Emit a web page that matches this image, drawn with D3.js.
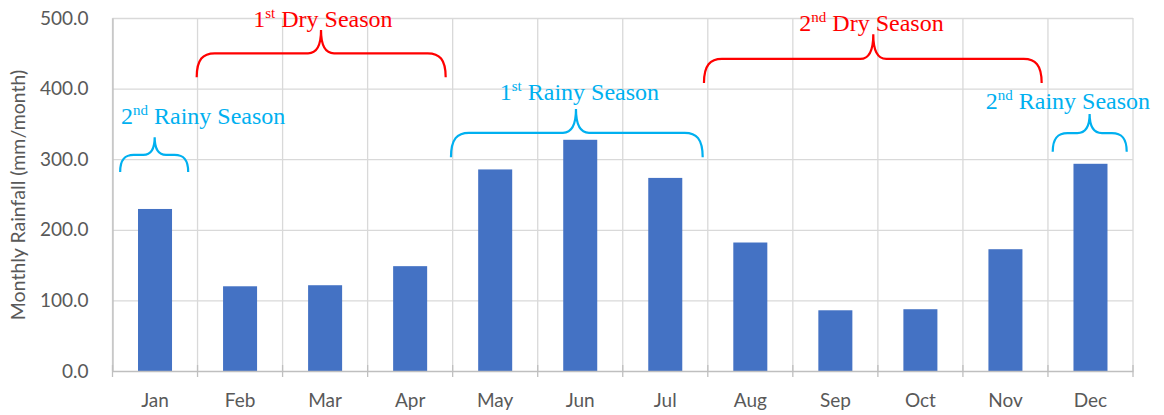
<!DOCTYPE html>
<html>
<head>
<meta charset="utf-8">
<script src="https://cdn.jsdelivr.net/npm/d3@7"></script>
<style>
  html, body { margin: 0; padding: 0; background: #fff; }
  svg { display: block; }
</style>
</head>
<body>
<svg id="chart" width="1164" height="415"></svg>
<script>
// Monthly rainfall (mm/month)
const months = ["Jan", "Feb", "Mar", "Apr", "May", "Jun", "Jul", "Aug", "Sep", "Oct", "Nov", "Dec"];
const rainfall = [229.5, 120.0, 121.5, 148.5, 285.5, 327.5, 273.5, 182.0, 86.0, 87.5, 172.5, 293.5];
const yTicks = [0, 100, 200, 300, 400, 500];

// Season annotations: brace span in month units (0 = left edge of Jan), heights in mm
const seasonOrdinals = ["2", "1", "1", "2", "2"];
const seasonSuffixes = ["nd", "st", "st", "nd", "nd"];
const seasonNames = ["Rainy Season", "Dry Season", "Rainy Season", "Dry Season", "Rainy Season"];
const seasonKinds = ["rainy", "dry", "rainy", "dry", "rainy"];
const braceStart = [0.09, 0.99, 3.98, 6.955, 11.056];
const braceEnd = [0.89, 3.918, 6.94, 10.926, 11.926];
const bracePeak = [0.496, 2.452, 5.45, 8.946, 11.49];
const braceFoot = [282, 416, 302.6, 408, 310.5];
const braceLevel = [306, 450, 337.4, 442, 337];
const braceTop = [331, 483, 371, 477, 364];
const labelPos = [0.1, 2.474, 5.49, 8.925, 11.235];
const labelAnchor = ["start", "middle", "middle", "middle", "middle"];
const labelLevel = [350, 487.5, 384, 482, 370.6];

const svg = d3.select("#chart");
const plotLeft = 112.5, plotRight = 1133, plotTop = 18, plotBottom = 371;

const x = d3.scaleBand().domain(months).range([plotLeft, plotRight]).paddingInner(0.6).paddingOuter(0.3);
const xCat = d3.scaleBand().domain(months).range([plotLeft, plotRight]).padding(0);
const xIdx = d3.scaleLinear().domain([0, months.length]).range([plotLeft, plotRight]);
const y = d3.scaleLinear().domain([0, 500]).range([plotBottom, plotTop]);

const axisFont = "Lato, 'Open Sans', sans-serif";
const textGray = "#595959";
const gridColor = "#d9d9d9";

// Horizontal gridlines
svg.append("g")
  .selectAll("line")
  .data(yTicks.filter(d => d > 0))
  .join("line")
  .attr("x1", plotLeft).attr("x2", plotRight)
  .attr("y1", d => y(d) + 0.5).attr("y2", d => y(d) + 0.5)
  .attr("stroke", gridColor).attr("stroke-width", 1.3);

// Vertical gridlines at category boundaries
const boundaries = d3.range(0, months.length + 1).map(i => xIdx(i));
svg.append("g")
  .selectAll("line")
  .data(boundaries)
  .join("line")
  .attr("x1", d => d).attr("x2", d => d)
  .attr("y1", plotTop).attr("y2", plotBottom)
  .attr("stroke", gridColor).attr("stroke-width", 1.3);

// Bars
svg.append("g")
  .selectAll("rect")
  .data(months.map((m, i) => ({ m, v: rainfall[i] })))
  .join("rect")
  .attr("x", d => x(d.m))
  .attr("width", x.bandwidth())
  .attr("y", d => y(d.v))
  .attr("height", d => y(0) - y(d.v))
  .attr("fill", "#4472c4");

// X axis
const xAxis = svg.append("g")
  .attr("transform", `translate(0,${plotBottom})`)
  .call(d3.axisBottom(xCat).tickSize(0).tickPadding(23));
xAxis.select(".domain").attr("stroke", "#bfbfbf").attr("stroke-width", 1.5);
xAxis.selectAll("text")
  .attr("fill", textGray)
  .style("font-family", axisFont)
  .style("font-size", "19px");
svg.append("g")
  .selectAll("line")
  .data(boundaries)
  .join("line")
  .attr("x1", d => d).attr("x2", d => d)
  .attr("y1", plotBottom - 6).attr("y2", plotBottom + 6)
  .attr("stroke", "#bfbfbf").attr("stroke-width", 1.3);

// Y axis
const yAxis = svg.append("g")
  .attr("transform", `translate(${plotLeft},0)`)
  .call(d3.axisLeft(y).tickValues(yTicks).tickFormat(d3.format(".1f")).tickSize(0).tickPadding(24));
yAxis.select(".domain").attr("stroke", "#bfbfbf").attr("stroke-width", 1.3);
yAxis.selectAll("text")
  .attr("fill", textGray)
  .style("font-family", axisFont)
  .style("font-size", "19px");

// Y axis title
svg.append("text")
  .attr("transform", `translate(25,195) rotate(-90)`)
  .attr("text-anchor", "middle")
  .attr("fill", textGray)
  .style("font-family", axisFont)
  .style("font-size", "19.5px")
  .text("Monthly Rainfall (mm/month)");

// Season braces and labels
const kindColor = { rainy: "#00b0f0", dry: "#ff0000" };

function bracePath(i) {
  const x0 = xIdx(braceStart[i]), x1 = xIdx(braceEnd[i]), xm = xIdx(bracePeak[i]);
  const yb = y(braceFoot[i]), yf = y(braceLevel[i]), yt = y(braceTop[i]);
  const rEnd = Math.min(18, (x1 - x0) / 5);
  const rMid = Math.min(13, (x1 - x0) / 6);
  const p = d3.path();
  p.moveTo(x0, yb);
  p.bezierCurveTo(x0, yb - (yb - yf) * 0.75, x0 + rEnd * 0.35, yf, x0 + rEnd, yf);
  p.lineTo(xm - rMid, yf);
  p.bezierCurveTo(xm - rMid * 0.3, yf, xm, yf - (yf - yt) * 0.35, xm, yt);
  p.bezierCurveTo(xm, yf - (yf - yt) * 0.35, xm + rMid * 0.3, yf, xm + rMid, yf);
  p.lineTo(x1 - rEnd, yf);
  p.bezierCurveTo(x1 - rEnd * 0.35, yf, x1, yb - (yb - yf) * 0.75, x1, yb);
  return p.toString();
}

const seasons = svg.append("g");
seasonNames.forEach((name, i) => {
  const color = kindColor[seasonKinds[i]];
  seasons.append("path")
    .attr("d", bracePath(i))
    .attr("fill", "none")
    .attr("stroke", color)
    .attr("stroke-width", 2.2);
  const t = seasons.append("text")
    .attr("x", xIdx(labelPos[i]))
    .attr("y", y(labelLevel[i]))
    .attr("text-anchor", labelAnchor[i])
    .attr("fill", color)
    .style("font-family", "'Liberation Serif', 'Times New Roman', serif")
    .style("font-size", "24px");
  t.append("tspan").text(seasonOrdinals[i]);
  t.append("tspan").attr("dy", -9).style("font-size", "15px").text(seasonSuffixes[i]);
  t.append("tspan").attr("dy", 9).text(" " + name);
});
</script>
</body>
</html>
